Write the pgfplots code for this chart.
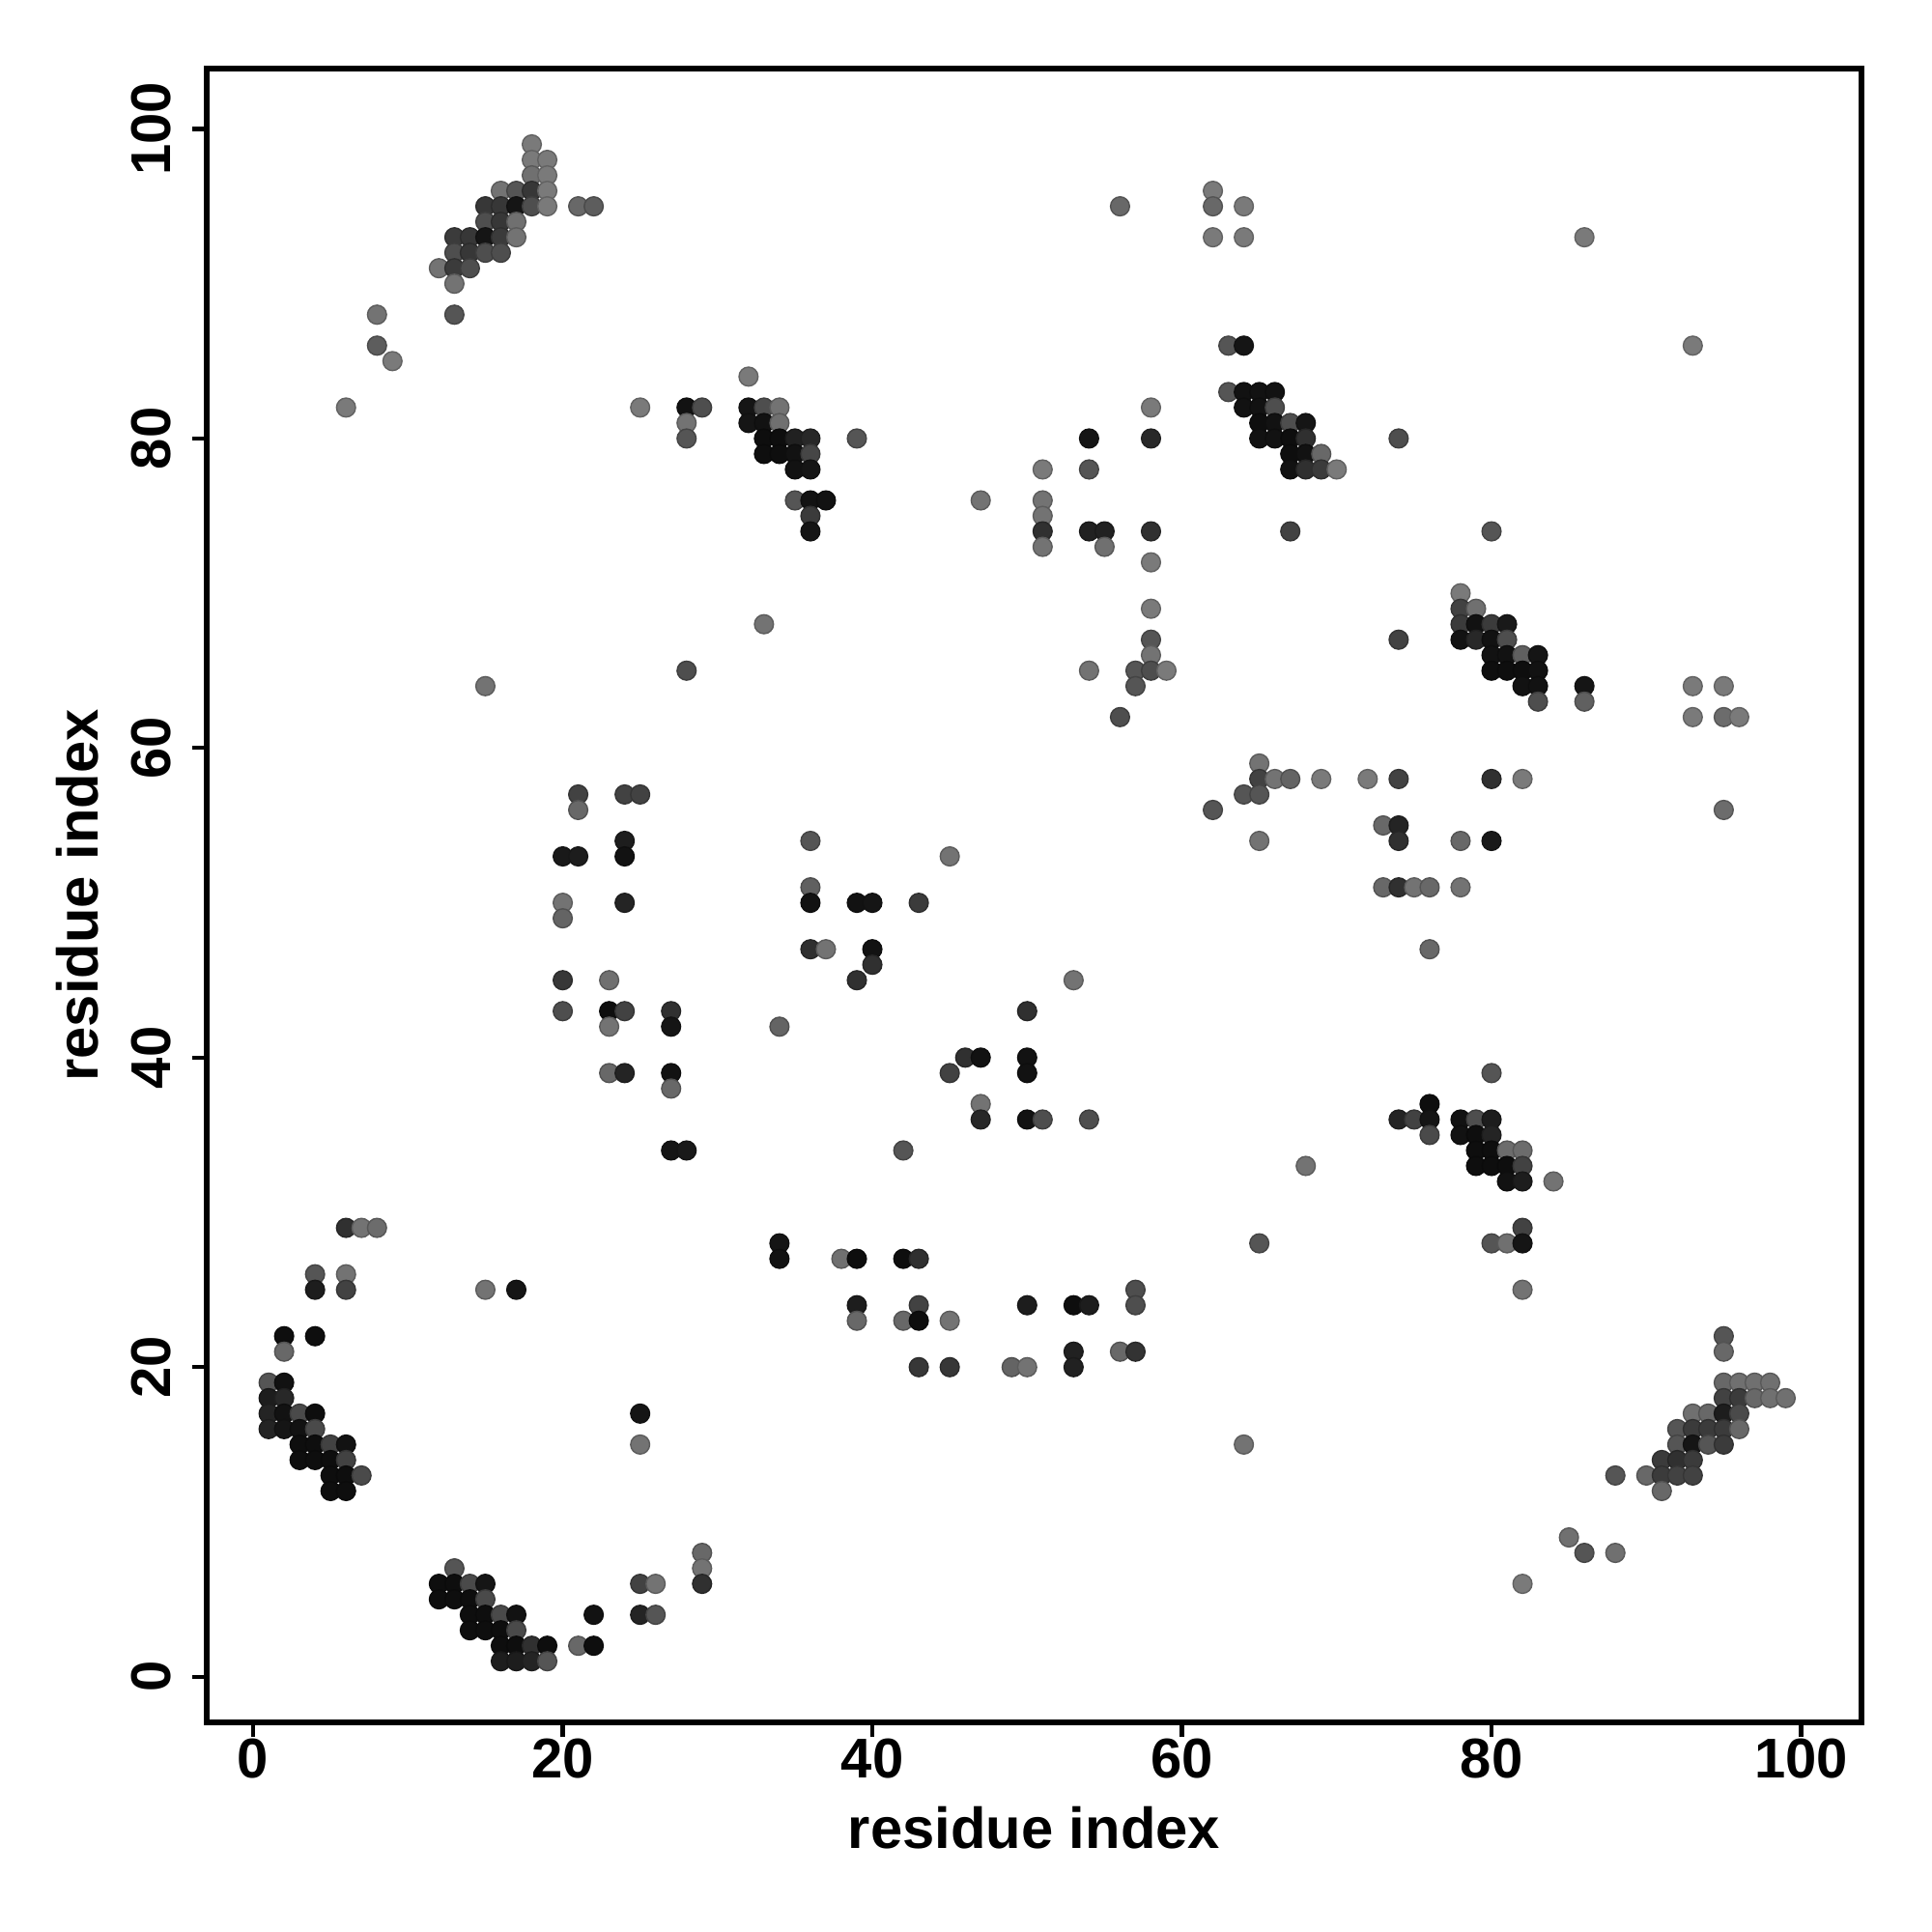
\documentclass[border=0pt]{standalone}
\usepackage{fontspec}
\setmainfont{Liberation Sans}
\usepackage{pgfplots}
\pgfplotsset{compat=1.18}

% contact map: x y shade (0 = black ... 3 = light grey)
\pgfplotstableread{
x y c
18 99 3
18 98 3
19 98 3
18 97 2.7
19 97 3
16 96 2.8
17 96 2
18 96 1.2
19 96 3
15 95 1.2
16 95 1.2
17 95 0.3
18 95 1.8
19 95 3
21 95 2.5
22 95 2.2
15 94 1.8
16 94 1.2
17 94 2.7
13 93 1.3
14 93 1.2
15 93 0.3
16 93 1.3
17 93 2.8
13 92 1.8
14 92 1.2
15 92 1.8
16 92 1.8
12 91 2.8
13 91 1.3
14 91 1.8
13 90 2.8
8 88 2.8
13 88 2
8 86 2.2
9 85 3
6 82 3
25 82 3
28 82 0.2
29 82 1.8
28 81 2.8
28 80 2
32 84 3
32 82 0.3
33 82 1.8
34 82 2.8
32 81 0.3
33 81 0.2
34 81 2.7
33 80 0.1
34 80 0.1
35 80 0.6
36 80 0.8
33 79 0.1
34 79 0.1
35 79 0.2
36 79 1.6
35 78 0.2
36 78 0.3
39 80 2
35 76 2
36 76 0.2
37 76 0.2
36 75 1.3
36 74 0.3
47 76 2.8
51 78 3
51 76 2.8
51 75 2.8
51 74 1
51 73 2.8
54 80 0.3
54 78 2
54 74 0.6
55 74 0.6
55 73 2.7
58 82 3
58 80 0.8
58 74 1
58 72 3
58 69 3
58 67 2
58 66 2.8
57 65 2
58 65 1.8
59 65 3
57 64 2
54 65 2.8
56 62 1.8
56 95 2.5
62 96 3
62 95 2.5
64 95 3
62 93 3
64 93 3
63 86 2
64 86 0.3
63 83 2
64 83 0.2
65 83 0.2
66 83 0.2
64 82 0.2
65 82 0.2
66 82 1.8
65 81 0.1
66 81 0.2
67 81 1.8
68 81 0.3
65 80 0.2
66 80 0.2
67 80 0.1
68 80 1
67 79 0.1
68 79 0.2
69 79 2.5
67 78 0.2
68 78 1
69 78 1.3
70 78 3
67 74 1.5
74 80 1.8
86 93 3
93 86 3
80 74 2
78 70 3
78 69 1.5
79 69 2.7
78 68 1.3
79 68 0.2
80 68 1.3
81 68 0.4
78 67 0.2
79 67 0.8
80 67 0.2
81 67 1.8
80 66 0.2
81 66 0.2
82 66 2.3
83 66 0.3
80 65 0.1
81 65 0.1
82 65 0.1
83 65 0.2
82 64 0.2
83 64 0.2
83 63 1.8
86 64 0.3
86 63 2.3
74 67 1.5
93 64 3
95 64 3
93 62 3
95 62 2.6
96 62 3
95 56 2.6
33 68 2.8
28 65 1.8
15 64 2.8
21 57 1.5
21 56 2.5
24 57 1.5
25 57 1.5
24 54 0.5
24 53 0.2
20 53 0.4
21 53 0.5
65 59 2.8
65 58 1.5
66 58 2.8
67 58 2.4
69 58 3
72 58 3
74 58 1.5
80 58 1
82 58 3
64 57 2
65 57 2
62 56 2
65 54 2.8
36 54 2
45 53 2.8
36 51 2.3
73 55 2.5
74 55 0.7
74 54 1
78 54 2.5
80 54 0.4
73 51 2.5
74 51 1
75 51 2.8
76 51 2.5
78 51 2.8
20 50 2.8
20 49 2.4
24 50 0.7
36 50 0.2
39 50 0.2
40 50 0.3
43 50 1.3
20 45 1.2
23 45 2.7
20 43 1.8
23 43 0.1
24 43 1.5
23 42 2.8
27 43 1
27 42 0.3
34 42 2.4
36 47 1
37 47 2.8
40 47 0.2
40 46 1
39 45 1
53 45 2.8
50 43 1
46 40 1
47 40 0.2
45 39 1.5
50 40 0.2
50 39 0.2
47 37 2.8
47 36 0.8
50 36 0.2
51 36 1.8
54 36 1.8
42 34 2
23 39 2.5
24 39 0.7
27 39 0.2
27 38 2.5
27 34 0.3
28 34 0.4
76 47 2.5
80 39 2
76 37 0.1
74 36 0.7
75 36 1.5
76 36 0.3
76 35 1.7
78 36 0.2
79 36 1.8
80 36 0.5
78 35 0.2
79 35 0.1
80 35 0.7
79 34 0.1
80 34 0.1
81 34 2.6
82 34 2.6
79 33 0.1
80 33 0.1
81 33 0.1
82 33 1.5
81 32 0.2
82 32 0.5
84 32 2.8
68 33 2.8
82 29 1.5
80 28 2
81 28 2.7
82 28 0.3
65 28 2
82 25 2.8
34 28 0.3
34 27 0.2
38 27 2.7
39 27 0.1
42 27 0.1
43 27 1
6 29 1
7 29 2.8
8 29 2.6
4 26 2
6 26 2.8
4 25 0.5
6 25 1.5
15 25 2.8
17 25 0.3
57 25 1.8
57 24 1.8
39 24 0.5
39 23 2.5
43 24 1.5
42 23 2.5
43 23 0.1
45 23 2.8
50 24 0.5
53 24 0.1
54 24 0.5
53 21 0.6
53 20 0.6
56 21 2.5
57 21 1.1
43 20 1.2
45 20 1.2
49 20 2.4
50 20 2.8
2 22 0.1
4 22 0.1
2 21 2.5
1 19 2
2 19 0.2
1 18 0.5
2 18 0.8
1 17 0.7
2 17 0.2
3 17 1.7
4 17 0.1
1 16 0.7
2 16 0.3
3 16 0.2
4 16 1.7
3 15 0.1
4 15 0.1
5 15 1.5
6 15 0.2
3 14 0.1
4 14 0.1
5 14 0.1
6 14 1.5
5 13 0.1
6 13 0.1
7 13 1.7
5 12 0.1
6 12 0.1
25 17 0.3
25 15 2.8
13 7 2
12 6 0.1
13 6 0.1
14 6 1.7
15 6 0.3
12 5 0.1
13 5 0.1
14 5 0.1
15 5 1.7
14 4 0.1
15 4 0.1
16 4 1.7
17 4 0.2
14 3 0.1
15 3 0.1
16 3 0.1
17 3 1.7
16 2 0.1
17 2 0.1
18 2 1
19 2 0.1
16 1 0.5
17 1 0.5
18 1 0.7
19 1 2
21 2 2.5
22 2 0.1
22 4 0.2
25 6 1.5
26 6 2.8
25 4 0.7
26 4 2
29 8 2.5
29 7 2.8
29 6 1
64 15 2.8
95 22 2
95 21 2.5
95 19 2.5
96 19 2.7
97 19 2.7
98 19 2.7
95 18 1.5
96 18 1.3
97 18 2.5
98 18 2.7
99 18 2.7
93 17 2.7
94 17 2.5
95 17 0.5
96 17 1.7
92 16 2
93 16 1.3
94 16 1.3
95 16 1.3
96 16 2.5
92 15 2
93 15 0.3
94 15 2
95 15 1.3
91 14 1.3
92 14 1
93 14 1.3
88 13 2
90 13 2.5
91 13 1.3
92 13 1.5
93 13 1.5
91 12 2.5
85 9 2.7
86 8 2
88 8 2.7
82 6 3
}\contacts

\begin{document}
\begin{tikzpicture}
\begin{axis}[
    scale only axis,
    width=17.13cm, height=17.12cm,
    xmin=-3.0, xmax=103.9,
    ymin=-2.95, ymax=103.9,
    xtick={0,20,...,100}, ytick={0,20,...,100},
    xtick pos=bottom, ytick pos=left,
    tick align=outside,
    major tick length=0.15cm,
    axis line style={line width=1.6pt},
    every tick/.style={black, line width=1.2pt},
    /pgf/number format/assume math mode=true,
    ticklabel style={font=\fontsize{16.5}{20}\selectfont\bfseries},
    xticklabel style={yshift=0.1cm},
    yticklabel style={rotate=90, anchor=south, yshift=0.1cm},
    xlabel={residue index},
    ylabel={residue index},
    label style={font=\fontsize{17}{20}\selectfont\bfseries, inner sep=0pt},
    xlabel style={at={(axis description cs:0.5,-0.0637)}, anchor=center},
    ylabel style={at={(axis description cs:-0.0782,0.5)}, anchor=center},
    colormap={shade}{rgb255(0cm)=(10,10,10) rgb255(3cm)=(122,122,122)},
    point meta min=0, point meta max=3,
]
\addplot[scatter, only marks, mark=*, mark size=2.8pt, scatter src=explicit]
    table[x=x, y=y, meta=c] {\contacts};
\end{axis}
\pgfresetboundingbox
\path[use as bounding box] ([shift={(-2.14cm,-2.17cm)}]current axis.south west)
    rectangle ([shift={(0.73cm,0.71cm)}]current axis.north east);
\end{tikzpicture}
\end{document}
